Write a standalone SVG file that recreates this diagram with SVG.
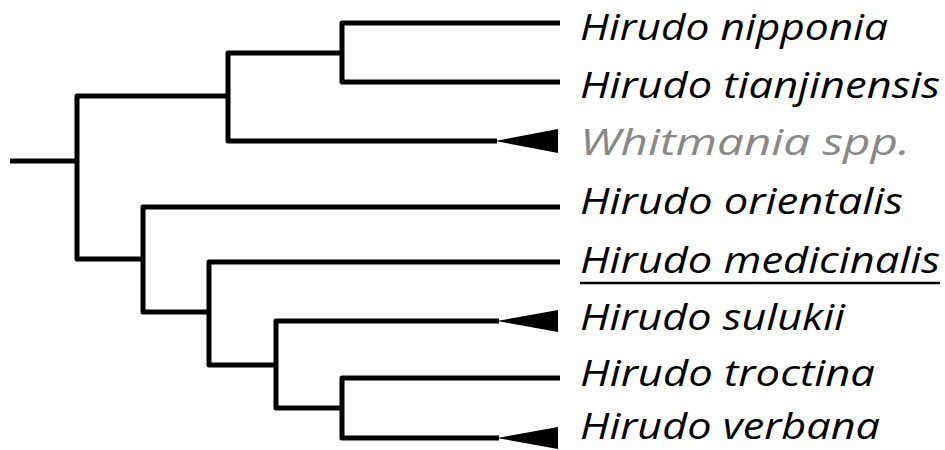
<svg xmlns="http://www.w3.org/2000/svg" width="945" height="450" viewBox="0 0 945 450">
<style>
.br{fill:none;stroke:#000;stroke-width:5;stroke-linejoin:round;stroke-linecap:butt}
.lbl{font-family:"Open Sans","DejaVu Sans",sans-serif;font-style:italic;font-size:37px;fill:#000}
.grey{fill:#888}
.tri{fill:#000}
</style>
<rect width="945" height="450" fill="#fff"/>
<g id="connectors">
<path class="br" d="M10,161 H78"/>
<path class="br" d="M228,96 H77 V259 H143"/>
<path class="br" d="M342,53 H228 V141 H497"/>
<path class="br" d="M560,23 H342 V82 H560"/>
<path class="br" d="M560,207 H143 V312 H209"/>
<path class="br" d="M560,262 H209 V365 H276"/>
<path class="br" d="M499,321 H276 V408 H342"/>
<path class="br" d="M560,378 H342 V438 H499"/>
</g>
<g id="hirudo-nipponia"><text class="lbl" x="580" y="40" textLength="308" lengthAdjust="spacingAndGlyphs">Hirudo nipponia</text></g>
<g id="hirudo-tianjinensis"><text class="lbl" x="580" y="98" textLength="360" lengthAdjust="spacingAndGlyphs">Hirudo tianjinensis</text></g>
<g id="whitmania-spp"><polygon class="tri" points="495,141 558,129 558,153"/><text class="lbl grey" x="580" y="155" textLength="330" lengthAdjust="spacingAndGlyphs">Whitmania spp.</text></g>
<g id="hirudo-orientalis"><text class="lbl" x="580" y="214" textLength="323" lengthAdjust="spacingAndGlyphs">Hirudo orientalis</text></g>
<g id="hirudo-medicinalis"><text class="lbl" x="580" y="273" textLength="360" lengthAdjust="spacingAndGlyphs">Hirudo medicinalis</text><line x1="580" y1="283" x2="940" y2="283" stroke="#000" stroke-width="2.5"/></g>
<g id="hirudo-sulukii"><polygon class="tri" points="497,321 558,310 558,332"/><text class="lbl" x="580" y="330" textLength="265" lengthAdjust="spacingAndGlyphs">Hirudo sulukii</text></g>
<g id="hirudo-troctina"><text class="lbl" x="580" y="386" textLength="295" lengthAdjust="spacingAndGlyphs">Hirudo troctina</text></g>
<g id="hirudo-verbana"><polygon class="tri" points="497,438 558,427 558,449"/><text class="lbl" x="580" y="439" textLength="300" lengthAdjust="spacingAndGlyphs">Hirudo verbana</text></g>
</svg>
